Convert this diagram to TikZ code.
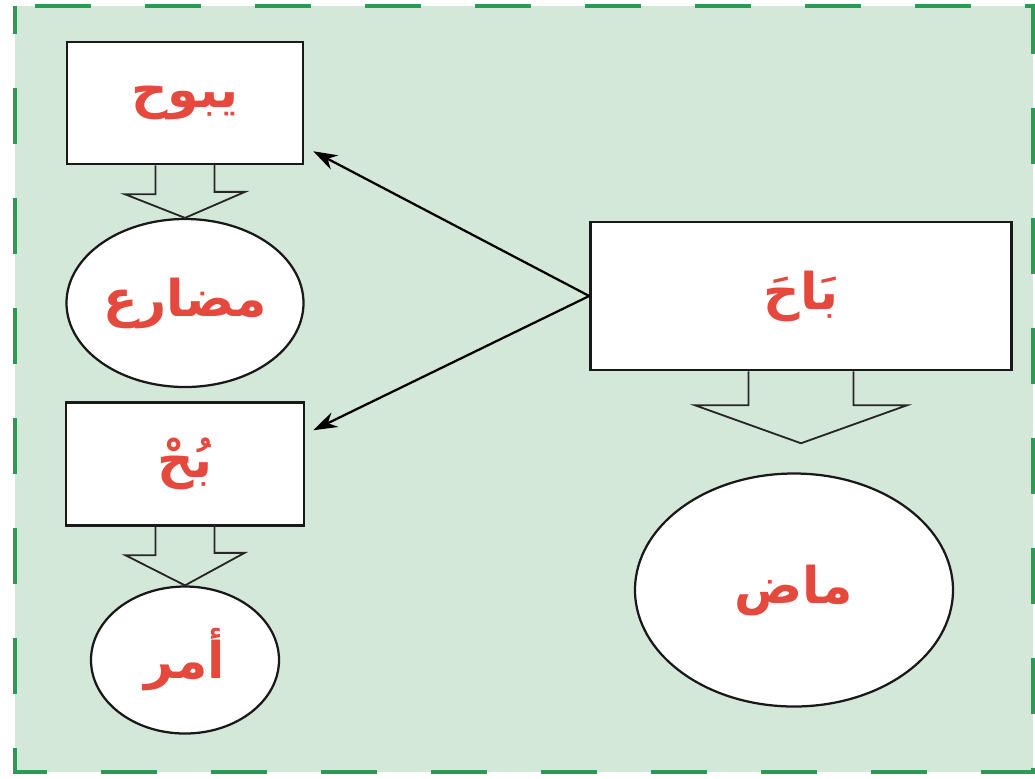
\documentclass[tikz,border=0pt]{standalone}
\usepackage{fontspec}
\newfontfamily\arabicfont[Script=Arabic]{DejaVu Sans}
\TeXXeTstate=1
\usetikzlibrary{shapes.geometric, arrows.meta, calc}
\definecolor{bggreen}{HTML}{D4E8D9}
\definecolor{dashgreen}{HTML}{2A9A55}
\definecolor{wordred}{HTML}{E5483C}

\begin{document}
\begin{tikzpicture}[
                x = 0.25mm, y = -0.25mm, % pixel-like units, y grows downwards
                > = {Stealth[length=6mm, width=4mm]}, % arrow head style
                line width = 1.6pt % line style
            ]

            \tikzstyle{word}=[text = wordred,
            font = \arabicfont\bfseries\fontsize{36}{40}\selectfont]
            \tikzstyle{box}=[word, draw = black!90, fill = white, rectangle,
            line width = 1.8pt]
            \tikzstyle{oval}=[word, draw = black!90, fill = white, ellipse,
            inner sep = 0pt]
            \tikzstyle{hollow}=[draw = black!85, line width = 1.3pt]

            % green panel with dashed frame
            \useasboundingbox (0,0) rectangle (1035,778);
            \fill[bggreen] (15,6) rectangle (1033,772);
            \draw[dashgreen, line width = 2.6pt, dash pattern = on 14mm off
            13.5mm, dash phase = 7mm] (15,6) rectangle (1033,772);

            \node (yabuh) [box, minimum width = 59mm, minimum height = 30.5mm]
            at (185,103) {\beginR يبوح\endR}; \node (mudari) [oval, below
            of=yabuh, node distance = 50mm, minimum width = 59.25mm, minimum
            height = 42mm] {\beginR مضارع\endR}; \node (buh) [box, below
            of=mudari, node distance = 40.25mm, minimum width = 59.5mm,
            minimum height = 30.75mm] {\beginR بُحْ\endR}; \node (amr) [oval,
            below of=buh, node distance = 49mm, minimum width = 47mm, minimum
            height = 36.75mm] {\beginR أمر\endR};
            \node (baha) [box, minimum width = 105.25mm, minimum height =
            37mm] at (801,296) {\beginR بَاحَ\endR}; \node (madi) [oval,
            minimum width = 79.5mm, minimum height = 58.25mm] at (794,590)
            {\beginR ماض\endR};

            % block arrows
            \draw[hollow] (yabuh.south) ++(-29.5,0) -- ++(0,29) -- ++(-30.5,0)
            -- (mudari.north) -- ++(60,-26) -- ++(-30.5,0) -- ++(0,-29);
            \draw[hollow] (buh.south) ++(-29.5,0) -- ++(0,28.5) -- ++(-30,0)
            -- (amr.north) -- ++(59.5,-32.5) -- ++(-30,0) -- ++(0,-28.5);
            \draw[hollow] (baha.south) ++(-52.5,0) -- ++(0,34) -- ++(-53.5,0)
            -- ++(106,38) -- ++(106,-38) -- ++(-53.5,0) -- ++(0,-34);

            \draw[->] (baha.west) -- ($(yabuh.south east)+(9,-14)$);
            \draw[->] (baha.west) -- ($(buh.north east)+(8,29)$);

        \end{tikzpicture}
\end{document}
